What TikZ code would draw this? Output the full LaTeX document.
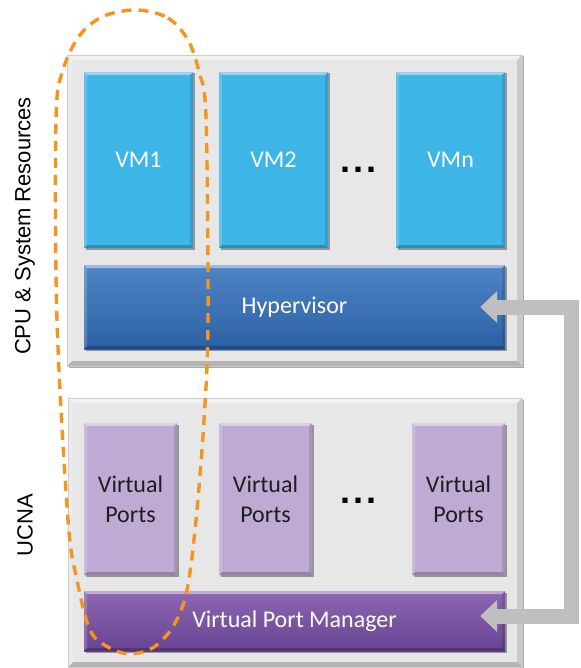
\documentclass[tikz,border=0pt]{standalone}
\usepackage{fontspec}
\setmainfont{Carlito}
\newfontfamily\arialf{Liberation Sans}
\usetikzlibrary{arrows.meta,shadows}

\definecolor{panelfill}{RGB}{231,231,231}
\definecolor{paneledge}{RGB}{205,205,205}
\definecolor{vmblue}{RGB}{61,181,230}
\definecolor{hyptop}{RGB}{78,133,198}
\definecolor{hypbot}{RGB}{44,96,164}
\definecolor{vplav}{RGB}{190,170,211}
\definecolor{vpmtop}{RGB}{142,102,178}
\definecolor{vpmbot}{RGB}{102,68,146}
\definecolor{arrowgray}{RGB}{191,191,191}
\definecolor{dashorange}{RGB}{247,148,29}
\definecolor{vptext}{RGB}{30,30,30}

\tikzset{
  bevel/.style={path picture={
    \fill[white,opacity=0.45] (path picture bounding box.north west) -- (path picture bounding box.north east)
      -- ([shift={(-#1,-#1)}]path picture bounding box.north east) -- ([shift={(#1,-#1)}]path picture bounding box.north west) -- cycle;
    \fill[white,opacity=0.18] (path picture bounding box.north west) -- (path picture bounding box.south west)
      -- ([shift={(#1,#1)}]path picture bounding box.south west) -- ([shift={(#1,-#1)}]path picture bounding box.north west) -- cycle;
    \fill[black,opacity=0.22] (path picture bounding box.south west) -- (path picture bounding box.south east)
      -- ([shift={(-#1,#1)}]path picture bounding box.south east) -- ([shift={(#1,#1)}]path picture bounding box.south west) -- cycle;
    \fill[black,opacity=0.12] (path picture bounding box.north east) -- (path picture bounding box.south east)
      -- ([shift={(-#1,#1)}]path picture bounding box.south east) -- ([shift={(-#1,-#1)}]path picture bounding box.north east) -- cycle;
  }},
  boxshadow/.style={drop shadow={shadow xshift=1.5pt, shadow yshift=-1.5pt, opacity=0.35, fill=black}},
  panel/.style={fill=panelfill, draw=paneledge, line width=0.6pt, inner sep=0pt, bevel=5pt, boxshadow},
  boxlbl/.style={font=\fontsize{24}{29.5}\selectfont, align=center, inner sep=0pt},
  vm/.style={boxlbl, fill=vmblue, text=white, minimum width=109pt, minimum height=176pt, bevel=3pt, boxshadow},
  hyp/.style={boxlbl, top color=hyptop, bottom color=hypbot, text=white, minimum width=421pt, minimum height=84pt, bevel=3pt, boxshadow},
  vp/.style={boxlbl, fill=vplav, text=vptext, minimum width=93pt, minimum height=152pt, bevel=3pt, boxshadow},
  vpm/.style={boxlbl, top color=vpmtop, bottom color=vpmbot, text=white, minimum width=421pt, minimum height=60pt, bevel=3pt, boxshadow},
  dotsl/.style={font=\arialf\bfseries\fontsize{36}{36}\selectfont, anchor=base, inner sep=0pt},
  sidelbl/.style={font=\arialf\fontsize{22}{26}\selectfont, rotate=90, inner sep=0pt},
  bigarrow/.style={draw=arrowgray, line width=15pt, line join=miter,
    {Triangle[width=31pt,length=17pt]}-{Triangle[width=31pt,length=17pt]}},
  ucnaloop/.style={draw=dashorange, line width=3.4pt, dash pattern=on 10pt off 7pt},
}

\begin{document}
\begin{tikzpicture}[x=1pt,y=-1pt]
\useasboundingbox (0,0) rectangle (580,668);

% panels
\node[panel, minimum width=455pt, minimum height=311pt] (cpu) at (294.5,210.5) {};
\node[panel, minimum width=454pt, minimum height=269pt] (ucna) at (295,532.5) {};

% side labels
\node[sidelbl] (cpulbl) at (25,226) {CPU \& System Resources};
\node[sidelbl] (ucnalbl) at (25,525) {UCNA};

% VMs
\node[vm] (vm1) at (138.5,160) {VM1};
\node[vm] (vm2) at (273.5,160) {VM2};
\node[vm] (vmn) at (450.5,160) {VMn};
\node[dotsl] (vmdots) at (358.5,173) {.\kern3pt.\kern3pt.};

% hypervisor
\node[hyp] (hyp) at (294.5,307) {Hypervisor};

% virtual ports
\node[vp] (vp1) at (130.5,499) {Virtual\\Ports};
\node[vp] (vp2) at (265.5,499) {Virtual\\Ports};
\node[vp] (vp3) at (458.5,499) {Virtual\\Ports};
\node[dotsl] (vpdots) at (358.5,503.5) {.\kern3pt.\kern3pt.};

% virtual port manager
\node[vpm] (vpm) at (294.5,621) {Virtual Port Manager};

% connector
\coordinate (hypIn) at ([xshift=-25pt]hyp.east);
\coordinate (vpmIn) at ([xshift=-25pt,yshift=5pt]vpm.east);
\draw[bigarrow] (hypIn) -- ++(91,0) |- (vpmIn);

% dashed loop
\draw[ucnaloop] plot[smooth cycle, tension=0.55] coordinates {
  (137,10) (168,18) (188,40) (199,72) (206,117) (208,320) (204,420) (196,520) (187,590)
  (174,625) (154,647) (130,654) (108,647) (90,630) (77,580) (68,520) (57,320)
  (56,120) (63,70) (80,35) (104,16)};
\end{tikzpicture}
\end{document}
